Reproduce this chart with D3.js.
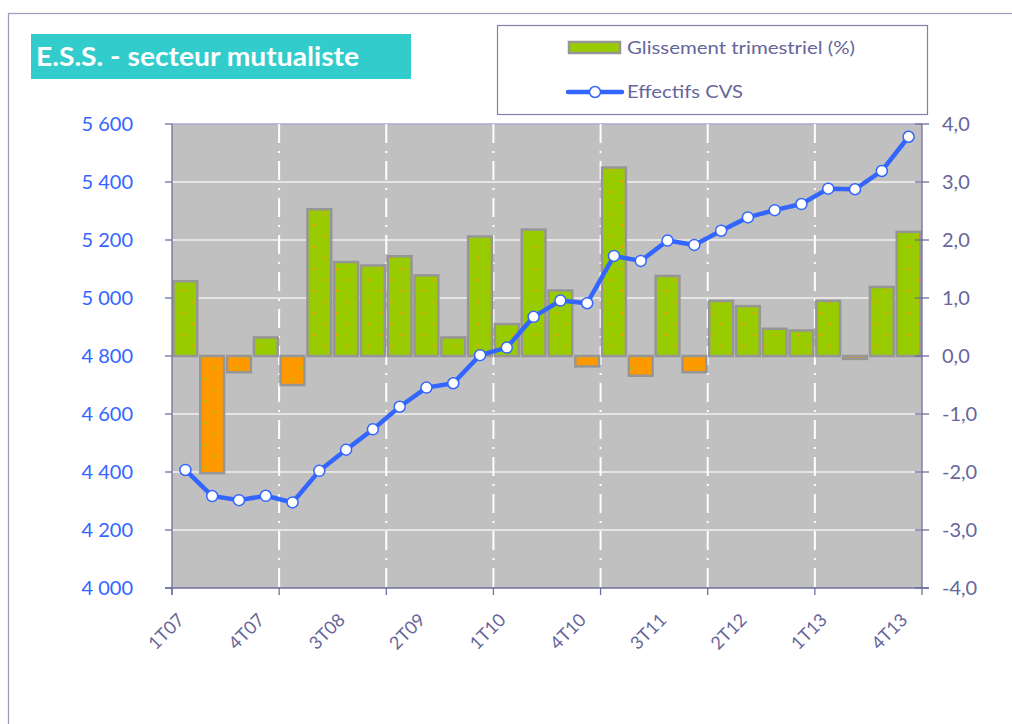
<!DOCTYPE html>
<html>
<head>
<meta charset="utf-8">
<script src="https://cdn.jsdelivr.net/npm/d3@7"></script>
<style>
  body { margin: 0; background: #fff; }
  text { font-family: Lato, "DejaVu Sans", sans-serif; }
</style>
</head>
<body>
<script>
// quarters 1T07 .. 4T13
var quarters = ["1T07","2T07","3T07","4T07","1T08","2T08","3T08","4T08",
                "1T09","2T09","3T09","4T09","1T10","2T10","3T10","4T10",
                "1T11","2T11","3T11","4T11","1T12","2T12","3T12","4T12",
                "1T13","2T13","3T13","4T13"];

// glissement trimestriel (%) - right axis
var glissement = [1.29, -2.02, -0.28, 0.32, -0.50, 2.53, 1.62, 1.56,
                  1.72, 1.39, 0.32, 2.06, 0.55, 2.18, 1.13, -0.18,
                  3.25, -0.34, 1.38, -0.28, 0.95, 0.86, 0.47, 0.44,
                  0.95, -0.05, 1.19, 2.14];

// effectifs CVS - left axis
var effectifs = [4407, 4317, 4303, 4318, 4295, 4404, 4477, 4547,
                 4625, 4691, 4706, 4803, 4829, 4935, 4991, 4982,
                 5145, 5128, 5198, 5183, 5232, 5278, 5303, 5324,
                 5377, 5375, 5438, 5556];

var leftTicks = [4000, 4200, 4400, 4600, 4800, 5000, 5200, 5400, 5600];
var rightTicks = [-4, -3, -2, -1, 0, 1, 2, 3, 4];

var width = 1012, height = 724;
var plot = {left: 172, right: 922, top: 124, bottom: 588};

var axisColor = "#6f6fa0",
    labelColor = "#66669a",
    blue = "#3366ff",
    green = "#99cc00",
    orange = "#ff9900",
    barStroke = "#969696";

var svg = d3.select("body").append("svg")
  .attr("width", width)
  .attr("height", height);

// patterns for the bars (dots)
var defs = svg.append("defs");
function dotPattern(id, bg, dot) {
  var p = defs.append("pattern")
    .attr("id", id)
    .attr("patternUnits", "userSpaceOnUse")
    .attr("width", 22).attr("height", 22);
  p.append("rect").attr("width", 22).attr("height", 22).attr("fill", bg);
  p.append("rect").attr("x", 5).attr("y", 4).attr("width", 2).attr("height", 2).attr("fill", dot);
  p.append("rect").attr("x", 16).attr("y", 15).attr("width", 2).attr("height", 2).attr("fill", dot);
}
dotPattern("posDots", green, orange);
dotPattern("negDots", orange, green);

// outer frame
svg.append("rect")
  .attr("x", 8.5).attr("y", 13.5)
  .attr("width", 1100).attr("height", 800)
  .attr("fill", "none")
  .attr("stroke", "#9a9abc").attr("stroke-width", 1.2);

// title
svg.append("rect")
  .attr("x", 31).attr("y", 34).attr("width", 380).attr("height", 45)
  .attr("fill", "#33cccc");
svg.append("text")
  .attr("x", 36).attr("y", 66)
  .attr("fill", "#fff")
  .attr("font-size", 26).attr("font-weight", "bold")
  .attr("textLength", 323).attr("lengthAdjust", "spacingAndGlyphs")
  .text("E.S.S. - secteur mutualiste");

// scales
var x = d3.scaleBand().domain(quarters).range([plot.left, plot.right]);
var yL = d3.scaleLinear().domain([4000, 5600]).range([plot.bottom, plot.top]);
var yR = d3.scaleLinear().domain([-4, 4]).range([plot.bottom, plot.top]);
var bw = x.bandwidth();

// plot background
svg.append("rect")
  .attr("x", plot.left).attr("y", plot.top)
  .attr("width", plot.right - plot.left).attr("height", plot.bottom - plot.top)
  .attr("fill", "#c0c0c0");

// horizontal grid
svg.append("g").selectAll("line")
  .data(leftTicks.filter(function(d) { return d > 4000; }))
  .enter().append("line")
  .attr("x1", plot.left).attr("x2", plot.right)
  .attr("y1", function(d) { return yL(d); })
  .attr("y2", function(d) { return yL(d); })
  .attr("stroke", function(d) { return d == 5600 ? "#a8a8cc" : "#f2f2f2"; })
  .attr("stroke-width", 1.5);

// vertical dash-dot grid every 4 quarters
var vIdx = [4, 8, 12, 16, 20, 24];
svg.append("g").selectAll("line")
  .data(vIdx)
  .enter().append("line")
  .attr("x1", function(i) { return x(quarters[i]); })
  .attr("x2", function(i) { return x(quarters[i]); })
  .attr("y1", plot.top).attr("y2", plot.bottom)
  .attr("stroke", "#fff").attr("stroke-width", 2)
  .attr("stroke-dasharray", "19,8,2,8");

// bars
svg.append("g").selectAll("rect")
  .data(glissement)
  .enter().append("rect")
  .attr("x", function(d, i) { return x(quarters[i]) + 1.5; })
  .attr("width", bw - 3)
  .attr("y", function(d) { return Math.min(yR(d), yR(0)); })
  .attr("height", function(d) { return Math.abs(yR(d) - yR(0)); })
  .attr("fill", function(d) { return d >= 0 ? "url(#posDots)" : "url(#negDots)"; })
  .attr("stroke", barStroke).attr("stroke-width", 2.5);

// line
var line = d3.line()
  .x(function(d, i) { return x(quarters[i]) + bw / 2; })
  .y(function(d) { return yL(d); });

svg.append("path")
  .datum(effectifs)
  .attr("d", line)
  .attr("fill", "none")
  .attr("stroke", blue).attr("stroke-width", 4.5)
  .attr("stroke-linejoin", "round");

svg.append("g").selectAll("circle")
  .data(effectifs)
  .enter().append("circle")
  .attr("cx", function(d, i) { return x(quarters[i]) + bw / 2; })
  .attr("cy", function(d) { return yL(d); })
  .attr("r", 5.5)
  .attr("fill", "#fff")
  .attr("stroke", blue).attr("stroke-width", 1.5);

// axes lines
var axes = svg.append("g").attr("stroke", axisColor).attr("stroke-width", 1.3);
axes.append("line").attr("x1", plot.left).attr("x2", plot.left).attr("y1", plot.top).attr("y2", plot.bottom + 7);
axes.append("line").attr("x1", plot.right).attr("x2", plot.right).attr("y1", plot.top).attr("y2", plot.bottom + 7);
axes.append("line").attr("x1", plot.left - 7).attr("x2", plot.right + 7).attr("y1", plot.bottom).attr("y2", plot.bottom);

// left ticks + labels
leftTicks.forEach(function(v) {
  axes.append("line")
    .attr("x1", plot.left - 7).attr("x2", plot.left)
    .attr("y1", yL(v)).attr("y2", yL(v));
});
svg.append("g").selectAll("text")
  .data(leftTicks)
  .enter().append("text")
  .attr("x", 133).attr("y", function(d) { return yL(d); })
  .attr("dy", "0.35em")
  .attr("text-anchor", "end")
  .attr("fill", blue).attr("font-size", 20)
  .text(function(d) { return d3.format(",")(d).replace(",", " "); });

// right ticks + labels
rightTicks.forEach(function(v) {
  axes.append("line")
    .attr("x1", plot.right - 7).attr("x2", plot.right + 7)
    .attr("y1", yR(v)).attr("y2", yR(v));
});
svg.append("g").selectAll("text")
  .data(rightTicks)
  .enter().append("text")
  .attr("x", 942)
  .attr("y", function(d) { return yR(d); })
  .attr("dy", "0.35em")
  .attr("fill", labelColor).attr("font-size", 20)
  .text(function(d) { return d3.format(".1f")(d).replace(".", ",").replace("−", "-"); });

// x ticks every 4 quarters
[0, 4, 8, 12, 16, 20, 24].forEach(function(i) {
  axes.append("line")
    .attr("x1", x(quarters[i])).attr("x2", x(quarters[i]))
    .attr("y1", plot.bottom).attr("y2", plot.bottom + 7);
});

// x labels every 3 quarters
svg.append("g").selectAll("text")
  .data(quarters.filter(function(d, i) { return i % 3 == 0; }))
  .enter().append("text")
  .attr("transform", function(d) {
    return "translate(" + (x(d) + bw / 2) + "," + 621 + ") rotate(-45)";
  })
  .attr("text-anchor", "end")
  .attr("fill", labelColor).attr("font-size", 18)
  .text(function(d) { return d; });

// legend
var legend = svg.append("g");
legend.append("rect")
  .attr("x", 497.5).attr("y", 25.5).attr("width", 430).attr("height", 89)
  .attr("fill", "#fff").attr("stroke", "#8080b0").attr("stroke-width", 1.2);
legend.append("rect")
  .attr("x", 569).attr("y", 42).attr("width", 51).attr("height", 11)
  .attr("fill", green).attr("stroke", barStroke).attr("stroke-width", 2.5);
legend.append("text")
  .attr("x", 627).attr("y", 48).attr("dy", "0.35em")
  .attr("fill", labelColor).attr("font-size", 18)
  .attr("textLength", 228).attr("lengthAdjust", "spacingAndGlyphs")
  .text("Glissement trimestriel (%)");
legend.append("line")
  .attr("x1", 568).attr("x2", 622).attr("y1", 92).attr("y2", 92)
  .attr("stroke", blue).attr("stroke-width", 4.5).attr("stroke-linecap", "round");
legend.append("circle")
  .attr("cx", 595).attr("cy", 92).attr("r", 5.5)
  .attr("fill", "#fff").attr("stroke", blue).attr("stroke-width", 1.5);
legend.append("text")
  .attr("x", 627).attr("y", 92).attr("dy", "0.35em")
  .attr("fill", labelColor).attr("font-size", 18)
  .attr("textLength", 116).attr("lengthAdjust", "spacingAndGlyphs")
  .text("Effectifs CVS");
</script>
</body>
</html>
